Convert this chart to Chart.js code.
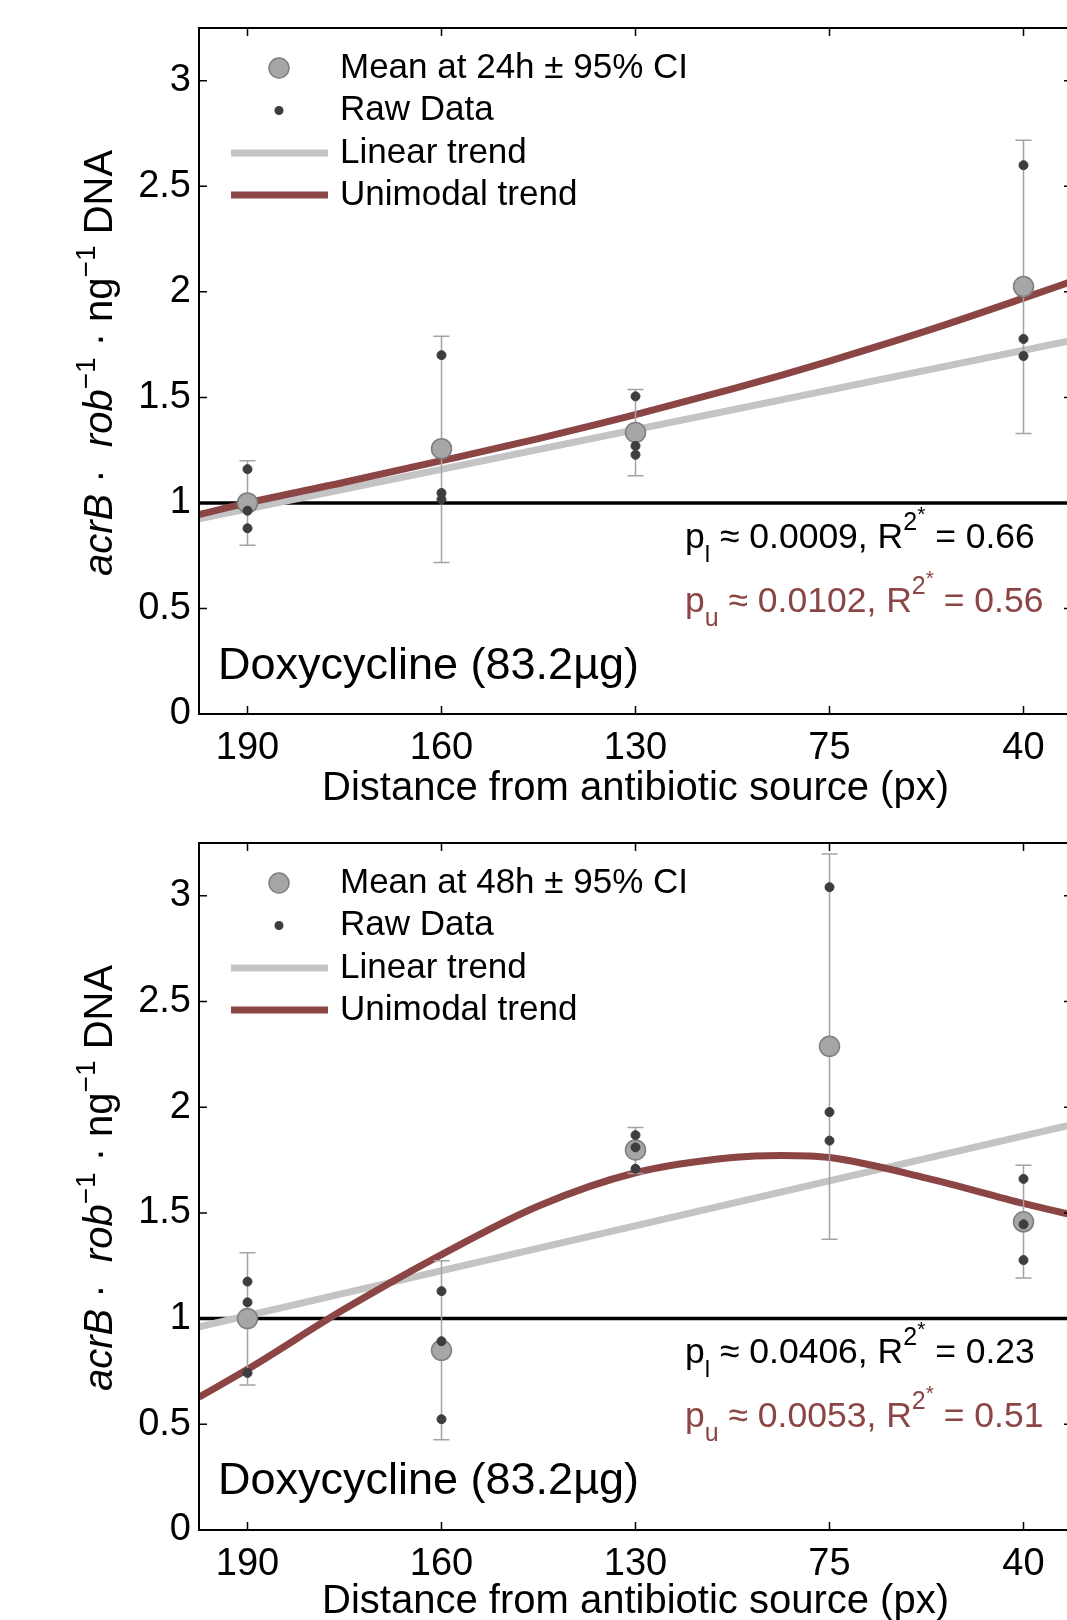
<!DOCTYPE html>
<html>
<head>
<meta charset="utf-8">
<script src="https://cdn.jsdelivr.net/npm/chart.js@4.4.0/dist/chart.umd.min.js"></script>
<style>
html, body { margin: 0; padding: 0; background: #fff; overflow: hidden; width: 1067px; height: 1620px; }
canvas { position: absolute; left: 0; }
</style>
</head>
<body>
<canvas id="c24" width="1100" height="810" style="top:0"></canvas>
<canvas id="c48" width="1100" height="810" style="top:810px"></canvas>
<script>
// sites along the x axis (distance from the antibiotic source)
const sitePos = [1, 2, 3, 4, 5];
const siteLabels = ['190', '160', '130', '75', '40'];
const yTicks = [0, 0.5, 1, 1.5, 2, 2.5, 3];
const baseLevel = 1;

// 24h panel
const mean24 = [1.0, 1.257, 1.334, null, 2.025];
const ciLow24 = [0.80, 0.718, 1.129, null, 1.329];
const ciHigh24 = [1.20, 1.79, 1.537, null, 2.718];
const rawA24 = [1.16, 1.70, 1.505, null, 2.60];
const rawB24 = [0.963, 1.047, 1.27, null, 1.777];
const rawC24 = [0.88, 1.017, 1.228, null, 1.696];
const linX = [0.75, 5.25];
const lin24 = [0.925, 1.77];
const uniX = [0.75, 1, 1.5, 2, 2.5, 3, 3.5, 3.75, 4, 4.5, 5, 5.25];
const uni24 = [0.945, 1.0, 1.098, 1.20, 1.305, 1.418, 1.54, 1.604, 1.672, 1.815, 1.97, 2.05];
const stats24 = ['0.0009', '0.66', '0.0102', '0.56'];

// 48h panel
const mean48 = [1.0, 0.85, 1.798, 2.288, 1.458];
const ciLow48 = [0.686, 0.427, 1.687, 1.376, 1.192];
const ciHigh48 = [1.311, 1.274, 1.904, 3.198, 1.726];
const rawA48 = [1.175, 1.13, 1.868, 3.041, 1.661];
const rawB48 = [1.077, 0.893, 1.81, 1.977, 1.446];
const rawC48 = [0.743, 0.524, 1.709, 1.842, 1.277];
const lin48 = [0.961, 1.917];
const uni48 = [0.628, 0.76, 1.045, 1.303, 1.533, 1.69, 1.762, 1.772, 1.762, 1.665, 1.545, 1.49];
const stats48 = ['0.0406', '0.23', '0.0053', '0.51'];

const FONT = '"Liberation Sans", Arial, Helvetica, sans-serif';
const RED = '#8c4545';
const GREY = '#c4c4c4';

function pts(xs, ys) {
  let out = [];
  for (let i = 0; i < xs.length; i++) {
    if (ys[i] !== null) out.push({ x: xs[i], y: ys[i] });
  }
  return out;
}

// draws a list of text runs one after the other, returns the end x
function runs(ctx, x, y, list) {
  for (let r of list) {
    ctx.font = (r.it ? 'italic ' : '') + r.size + 'px ' + FONT;
    ctx.fillStyle = r.color || '#000';
    ctx.fillText(r.t, x, y + (r.dy || 0));
    x += ctx.measureText(r.t).width;
  }
  return x;
}
function runsWidth(ctx, list) {
  let w = 0;
  for (let r of list) {
    ctx.font = (r.it ? 'italic ' : '') + r.size + 'px ' + FONT;
    w += ctx.measureText(r.t).width;
  }
  return w;
}

function makePanel(id, p) {
  const ctx = document.getElementById(id).getContext('2d');

  const panelPlugin = {
    id: 'panel' + id,
    beforeDatasetDraw(chart, args) {
      // error bars just under the mean markers
      if (args.index !== 3) return;
      const c = chart.ctx, xs = chart.scales.x, ys = chart.scales.y;
      c.save();
      c.strokeStyle = '#a3a3a3';
      c.lineWidth = 1.5;
      for (let i = 0; i < sitePos.length; i++) {
        if (p.mean[i] === null) continue;
        let px = xs.getPixelForValue(sitePos[i]);
        let lo = ys.getPixelForValue(p.lo[i]), hi = ys.getPixelForValue(p.hi[i]);
        c.beginPath();
        c.moveTo(px, lo); c.lineTo(px, hi);
        c.moveTo(px - 8, lo); c.lineTo(px + 8, lo);
        c.moveTo(px - 8, hi); c.lineTo(px + 8, hi);
        c.stroke();
      }
      c.restore();
    },
    afterDraw(chart) {
      const c = chart.ctx, a = chart.chartArea, xs = chart.scales.x, ys = chart.scales.y;
      c.save();
      // box + inward ticks on all sides
      c.strokeStyle = '#000';
      c.lineWidth = 2;
      c.strokeRect(a.left, a.top, a.right - a.left, a.bottom - a.top);
      c.lineWidth = 1.5;
      c.beginPath();
      for (let v of sitePos) {
        let px = xs.getPixelForValue(v);
        c.moveTo(px, a.bottom); c.lineTo(px, a.bottom - 8);
        c.moveTo(px, a.top); c.lineTo(px, a.top + 8);
      }
      for (let v of yTicks) {
        let py = ys.getPixelForValue(v);
        c.moveTo(a.left, py); c.lineTo(a.left + 8, py);
        c.moveTo(a.right, py); c.lineTo(a.right - 8, py);
      }
      c.stroke();

      // legend
      let lx = 279, t = a.top;
      c.beginPath();
      c.arc(lx, t + 40, 10, 0, Math.PI * 2);
      c.fillStyle = '#a6a6a6'; c.fill();
      c.strokeStyle = '#7f7f7f'; c.lineWidth = 1.5; c.stroke();
      c.beginPath();
      c.arc(lx, t + 82.5, 4.5, 0, Math.PI * 2);
      c.fillStyle = '#3d3d3d'; c.fill();
      c.lineWidth = 7;
      c.strokeStyle = GREY;
      c.beginPath(); c.moveTo(231, t + 125); c.lineTo(328, t + 125); c.stroke();
      c.strokeStyle = RED;
      c.beginPath(); c.moveTo(231, t + 167); c.lineTo(328, t + 167); c.stroke();
      c.textBaseline = 'middle';
      c.textAlign = 'left';
      c.fillStyle = '#000';
      c.font = '35px ' + FONT;
      c.fillText(p.meanLabel, 340, t + 40);
      c.fillText('Raw Data', 340, t + 82.5);
      c.fillText('Linear trend', 340, t + 125);
      c.fillText('Unimodal trend', 340, t + 167);

      // fit statistics
      c.textBaseline = 'alphabetic';
      runs(c, 685, t + 520, [
        { t: 'p', size: 35.5 }, { t: 'l', size: 24, dy: 14 },
        { t: ' \u2248 ' + p.stats[0] + ', R', size: 35.5 },
        { t: '2', size: 25, dy: -18 }, { t: '*', size: 21, dy: -27 },
        { t: ' = ' + p.stats[1], size: 35.5 }
      ]);
      runs(c, 685, t + 584, [
        { t: 'p', size: 35.5, color: RED }, { t: 'u', size: 25, dy: 14, color: RED },
        { t: ' \u2248 ' + p.stats[2] + ', R', size: 35.5, color: RED },
        { t: '2', size: 25, dy: -18, color: RED }, { t: '*', size: 21, dy: -27, color: RED },
        { t: ' = ' + p.stats[3], size: 35.5, color: RED }
      ]);

      c.font = '45px ' + FONT;
      c.fillStyle = '#000';
      c.fillText('Doxycycline (83.2\u00b5g)', 218, t + 651);

      // y axis title, rotated
      const ytitle = [
        { t: 'acrB', size: 40, it: true }, { t: ' \u00b7  ', size: 40 },
        { t: 'rob', size: 40, it: true }, { t: '\u22121', size: 28, dy: -17 },
        { t: ' \u00b7 ng', size: 40 }, { t: '\u22121', size: 28, dy: -17 },
        { t: ' DNA', size: 40 }
      ];
      c.translate(112, t + 335);
      c.rotate(-Math.PI / 2);
      runs(c, -runsWidth(c, ytitle) / 2, 0, ytitle);
      c.restore();
    }
  };

  let rawPts = pts(sitePos, p.rawA).concat(pts(sitePos, p.rawB), pts(sitePos, p.rawC));

  return new Chart(ctx, {
    type: 'scatter',
    data: {
      datasets: [
        { data: pts(linX, [baseLevel, baseLevel]), showLine: true, borderColor: '#000', borderWidth: 3.5, pointRadius: 0, order: 4 },
        { data: pts(linX, p.lin), showLine: true, borderColor: GREY, borderWidth: 7, pointRadius: 0, order: 3 },
        { data: pts(uniX, p.uni), showLine: true, borderColor: RED, borderWidth: 7, pointRadius: 0, cubicInterpolationMode: 'monotone', order: 2 },
        { data: pts(sitePos, p.mean), pointRadius: 10, backgroundColor: '#a6a6a6', borderColor: '#7f7f7f', borderWidth: 1.5, order: 1 },
        { data: rawPts, pointRadius: 4.5, backgroundColor: '#3d3d3d', borderColor: '#3d3d3d', borderWidth: 1, order: 0 }
      ]
    },
    options: {
      responsive: false,
      animation: false,
      events: [],
      devicePixelRatio: 1,
      layout: { padding: { top: p.padTop, right: 28, bottom: 0, left: 0 } },
      plugins: { legend: { display: false }, tooltip: { enabled: false } },
      scales: {
        x: {
          type: 'linear', min: 0.75, max: 5.25,
          afterBuildTicks: s => { s.ticks = sitePos.map(v => ({ value: v })); },
          ticks: {
            callback: (v, i) => siteLabels[i],
            color: '#000', font: { family: FONT, size: 38 }, padding: 12,
            maxRotation: 0, autoSkip: false
          },
          grid: { display: false, drawTicks: false },
          border: { display: false },
          title: {
            display: true, text: 'Distance from antibiotic source (px)', color: '#000',
            font: { family: FONT, size: 40, lineHeight: 1 }, padding: { top: 0, bottom: p.titlePad }
          },
          afterFit: s => { s.height = p.xHeight; s.paddingLeft = 0; s.paddingRight = 0; }
        },
        y: {
          type: 'linear', min: 0, max: 3.25,
          afterBuildTicks: s => { s.ticks = yTicks.map(v => ({ value: v })); },
          ticks: { callback: v => String(v), color: '#000', font: { family: FONT, size: 38 }, padding: 8 },
          grid: { display: false, drawTicks: false },
          border: { display: false },
          afterFit: s => { s.width = 199; s.paddingTop = 0; s.paddingBottom = 0; }
        }
      }
    },
    plugins: [panelPlugin]
  });
}

makePanel('c24', {
  mean: mean24, lo: ciLow24, hi: ciHigh24, rawA: rawA24, rawB: rawB24, rawC: rawC24,
  lin: lin24, uni: uni24, stats: stats24, meanLabel: 'Mean at 24h \u00b1 95% CI',
  padTop: 28, xHeight: 96, titlePad: 1
});
makePanel('c48', {
  mean: mean48, lo: ciLow48, hi: ciHigh48, rawA: rawA48, rawB: rawB48, rawC: rawC48,
  lin: lin48, uni: uni48, stats: stats48, meanLabel: 'Mean at 48h \u00b1 95% CI',
  padTop: 33, xHeight: 90, titlePad: -2
});
</script>
</body>
</html>
